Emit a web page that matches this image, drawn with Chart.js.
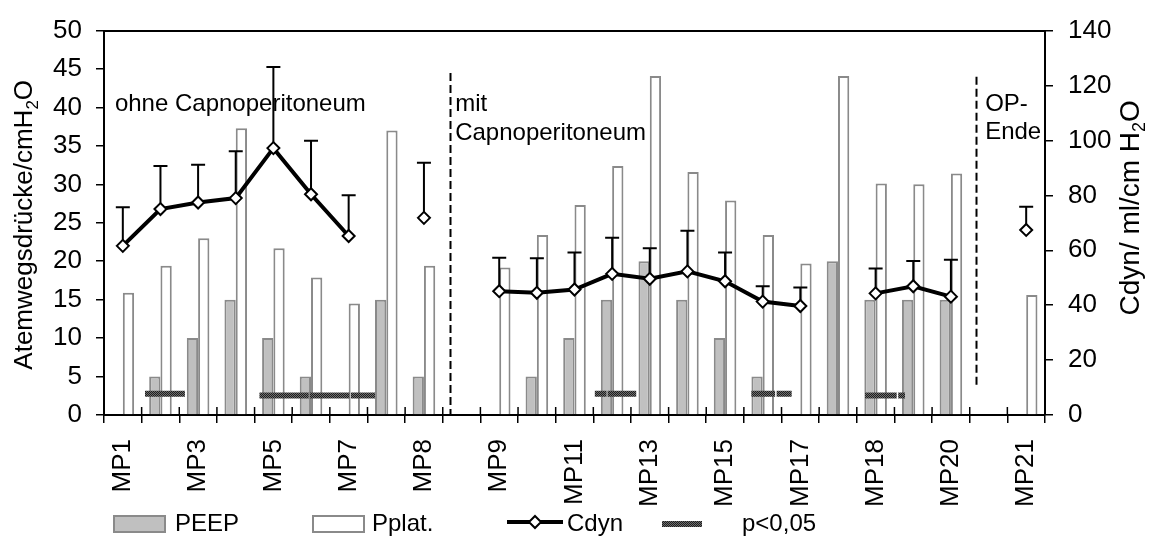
<!DOCTYPE html>
<html>
<head>
<meta charset="utf-8">
<script src="https://cdn.jsdelivr.net/npm/chart.js@4"></script>
<style>
  html, body { margin: 0; padding: 0; background: #fff; }
  #wrap { width: 1156px; height: 538px; position: relative; }
</style>
</head>
<body>
<div id="wrap"><canvas id="c"></canvas></div>
<script>
// Measurement points (empty strings mark spacer slots between phases)
const categories = ['MP1','MP2','MP3','MP4','MP5','MP6','MP7','','MP8','','MP9','MP10','MP11','MP12','MP13','MP14','MP15','MP16','MP17','','MP18','MP19','MP20','','MP21'];

// Airway pressures, cmH2O (left axis)
const peep  = [0, 5, 10, 15, 10, 5, 0, 15, 5, null, 0, 5, 10, 15, 20, 15, 10, 5, 0, 20, 15, 15, 15, null, 0];
const pplat = [15.9, 19.4, 23.0, 37.3, 21.7, 17.9, 14.5, 37.0, 19.4, null, 19.2, 23.4, 27.3, 32.4, 44.1, 31.6, 27.9, 23.4, 19.7, 44.1, 30.1, 30.0, 31.4, null, 15.6];

// Dynamic compliance, ml/cmH2O (right axis): mean and SD
const cdynMean = [61.6, 75.0, 77.4, 79.0, 97.2, 80.4, 65.2, null, 71.8, null, 45.1, 44.5, 45.7, 51.4, 49.6, 52.3, 48.7, 41.3, 39.7, null, 44.3, 46.9, 43.1, null, 67.4];
const cdynSD   = [14.1, 15.7, 13.7, 17.1, 29.5, 19.5, 14.8, null, 20.1, null, 12.2, 12.6, 13.5, 13.2, 11.1, 14.8, 10.5, 5.6, 6.7, null, 9.1, 9.2, 13.4, null, 8.4];

// Significance markers: start/end in slot units along the x axis, level on the left axis
const sigStart = [1.09, 4.13, 5.47, 6.56, 13.04, 13.38, 17.20, 17.87, 20.22, 21.10];
const sigEnd   = [2.15, 5.44, 6.52, 7.20, 13.35, 14.14, 17.83, 18.27, 21.06, 21.28];
const sigLevel = [2.75, 2.55, 2.55, 2.55, 2.75, 2.75, 2.75, 2.75, 2.55, 2.55];

// Phase dividers (slot units) and their vertical extent on the left axis
const dividerAt     = [9.19, 23.17];
const dividerTop    = [44.5, 44.0];
const dividerBottom = [0, 3.5];

// Phase captions: one line each, anchored in slot units / left-axis values
const noteText = ['ohne Capnoperitoneum', 'mit', 'Capnoperitoneum', 'OP-', 'Ende'];
const noteX    = [0.29, 9.33, 9.33, 23.41, 23.41];
const noteY    = [39.6, 39.6, 35.75, 39.6, 35.9];

// Axis ranges and titles (title = [before subscript, subscript, after])
const leftTicks  = {min: 0, max: 50, step: 5};
const rightTicks = {min: 0, max: 140, step: 20};
const leftTitle  = ['Atemwegsdrücke/cmH', '2', 'O'];
const rightTitle = ['Cdyn/ ml/cm H', '2', 'O'];

const FONT = "'Liberation Sans', Arial, sans-serif";

// Significance line points in the category scale's internal units
// (slot boundary k sits at category value k - 0.5); nulls break the line
const sigPoints = [];
sigStart.forEach((s, i) => {
  sigPoints.push({x: s - 0.5, y: sigLevel[i]});
  sigPoints.push({x: sigEnd[i] - 0.5, y: sigLevel[i]});
  sigPoints.push({x: (sigEnd[i] + (sigStart[i + 1] ?? sigEnd[i])) / 2 - 0.5, y: null});
});

// Dark checkered texture for the significance bars
function makeTexture() {
  const c = document.createElement('canvas');
  c.width = 2; c.height = 2;
  const g = c.getContext('2d');
  g.fillStyle = '#6e6e6e'; g.fillRect(0, 0, 2, 2);
  g.fillStyle = '#1e1e1e'; g.fillRect(0, 0, 1, 1); g.fillRect(1, 1, 1, 1);
  return g.createPattern(c, 'repeat');
}
const sigTexture = makeTexture();

// Rotated axis title with a subscript, reading bottom to top
function drawTitle(ctx, parts, baseX, centerY, size) {
  const big = size + 'px ' + FONT, small = Math.round(size * 0.65) + 'px ' + FONT;
  ctx.font = big;
  const w0 = ctx.measureText(parts[0]).width, w2 = ctx.measureText(parts[2]).width;
  ctx.font = small;
  const w1 = ctx.measureText(parts[1]).width;
  const total = w0 + w1 + w2;
  ctx.save();
  ctx.translate(baseX, centerY);
  ctx.rotate(-Math.PI / 2);
  ctx.fillStyle = '#000';
  ctx.textAlign = 'left';
  ctx.textBaseline = 'alphabetic';
  let x = -total / 2;
  ctx.font = big;  ctx.fillText(parts[0], x, 0); x += w0;
  ctx.font = small; ctx.fillText(parts[1], x, size * 0.22); x += w1;
  ctx.font = big;  ctx.fillText(parts[2], x, 0);
  ctx.restore();
}

const overlay = {
  id: 'overlay',
  beforeDatasetsDraw(chart) {
    const {ctx, scales: {xp, y}} = chart;
    ctx.save();
    ctx.strokeStyle = '#000';
    ctx.lineWidth = 2;
    ctx.setLineDash([8, 4]);
    dividerAt.forEach((d, i) => {
      const px = Math.round(xp.getPixelForValue(d)) + 0.5;
      ctx.beginPath();
      ctx.moveTo(px, y.getPixelForValue(dividerTop[i]));
      ctx.lineTo(px, y.getPixelForValue(dividerBottom[i]));
      ctx.stroke();
    });
    ctx.restore();
  },
  beforeDatasetDraw(chart, args) {
    if (chart.data.datasets[args.index].label !== 'Cdyn') return;
    const {ctx, scales: {x, y2}} = chart;
    ctx.save();
    ctx.strokeStyle = '#000';
    ctx.lineWidth = 2;
    cdynMean.forEach((m, i) => {
      if (m == null) return;
      const px = x.getPixelForValue(i);
      const y0 = y2.getPixelForValue(m);
      const y1 = y2.getPixelForValue(m + cdynSD[i]);
      ctx.beginPath();
      ctx.moveTo(px, y0); ctx.lineTo(px, y1);
      ctx.moveTo(px - 7, y1); ctx.lineTo(px + 7, y1);
      ctx.stroke();
    });
    ctx.restore();
  },
  afterDatasetsDraw(chart) {
    const {ctx, chartArea, scales: {xp, y}} = chart;
    ctx.save();
    // inner halves of the category tick marks
    ctx.strokeStyle = '#000';
    ctx.lineWidth = 1.5;
    for (let i = 0; i <= categories.length; i++) {
      const px = xp.getPixelForValue(i);
      ctx.beginPath();
      ctx.moveTo(px, chartArea.bottom - 8);
      ctx.lineTo(px, chartArea.bottom);
      ctx.stroke();
    }
    // phase captions
    ctx.fillStyle = '#000';
    ctx.font = '24px ' + FONT;
    ctx.textBaseline = 'alphabetic';
    ctx.textAlign = 'left';
    noteText.forEach((t, i) => {
      ctx.fillText(t, xp.getPixelForValue(noteX[i]), y.getPixelForValue(noteY[i]));
    });
    ctx.restore();
  },
  afterDraw(chart) {
    const {ctx, chartArea} = chart;
    const midY = (chartArea.top + chartArea.bottom) / 2;
    drawTitle(ctx, leftTitle, chartArea.left - 72, midY + 2, 26);
    drawTitle(ctx, rightTitle, chartArea.right + 94, midY - 15, 28);

    const ds = chart.data.datasets;
    const get = l => ds.find(d => d.label === l);
    const yMid = 524;
    ctx.save();
    ctx.font = '24px ' + FONT;
    ctx.fillStyle = '#000';
    ctx.textBaseline = 'middle';
    ctx.textAlign = 'left';
    // bar swatches
    [['PEEP', 113, 175], ['Pplat.', 312, 372]].forEach(([lab, bx, tx]) => {
      const d = get(lab);
      ctx.fillStyle = d.backgroundColor;
      ctx.fillRect(bx, 515, 53, 18);
      ctx.strokeStyle = d.borderColor;
      ctx.lineWidth = 2;
      ctx.strokeRect(bx + 1, 516, 51, 16);
      ctx.fillStyle = '#000';
      ctx.fillText(lab, tx, yMid);
    });
    // compliance line sample
    const c = get('Cdyn');
    ctx.strokeStyle = c.borderColor;
    ctx.lineWidth = c.borderWidth;
    ctx.beginPath(); ctx.moveTo(507, 522); ctx.lineTo(563, 522); ctx.stroke();
    ctx.fillStyle = '#fff';
    ctx.lineWidth = 2;
    ctx.beginPath();
    ctx.moveTo(535, 516); ctx.lineTo(541, 522); ctx.lineTo(535, 528); ctx.lineTo(529, 522); ctx.closePath();
    ctx.fill(); ctx.stroke();
    ctx.fillStyle = '#000';
    ctx.fillText('Cdyn', 567, yMid);
    // significance sample
    const p = get('p<0,05');
    ctx.strokeStyle = p.borderColor;
    ctx.lineWidth = p.borderWidth;
    ctx.lineCap = 'butt';
    ctx.beginPath(); ctx.moveTo(662, 524); ctx.lineTo(702, 524); ctx.stroke();
    ctx.fillStyle = '#000';
    ctx.fillText('p<0,05', 742, yMid);
    ctx.restore();
  }
};

new Chart(document.getElementById('c'), {
  type: 'bar',
  data: {
    labels: categories,
    datasets: [
      {
        type: 'line', label: 'Cdyn', data: cdynMean,
        xAxisID: 'x', yAxisID: 'y2', order: 0,
        borderColor: '#000', borderWidth: 4, spanGaps: false,
        pointStyle: 'rectRot', pointRadius: 6, pointBorderWidth: 2,
        pointBackgroundColor: '#fff', pointBorderColor: '#000'
      },
      {
        type: 'line', label: 'p<0,05', data: sigPoints, parsing: false,
        xAxisID: 'x', yAxisID: 'y', order: 1,
        borderColor: sigTexture, borderWidth: 6, borderCapStyle: 'butt',
        pointRadius: 0, spanGaps: false
      },
      {
        type: 'bar', label: 'PEEP', data: peep,
        xAxisID: 'x', yAxisID: 'y', order: 2,
        backgroundColor: '#c0c0c0', borderColor: '#8a8a8a', borderWidth: 2,
        categoryPercentage: 0.6, barPercentage: 1.0
      },
      {
        type: 'bar', label: 'Pplat.', data: pplat,
        xAxisID: 'x', yAxisID: 'y', order: 2,
        backgroundColor: '#ffffff', borderColor: '#8a8a8a', borderWidth: 2,
        categoryPercentage: 0.6, barPercentage: 1.0
      }
    ]
  },
  options: {
    responsive: true,
    maintainAspectRatio: false,
    animation: false,
    layout: {padding: 0},
    plugins: {legend: {display: false}, tooltip: {enabled: false}},
    scales: {
      x: {
        type: 'category', position: 'bottom', offset: true,
        grid: {display: true, drawOnChartArea: false, offset: true, tickLength: 8, color: '#000', lineWidth: 1.5},
        border: {display: true, color: '#000', width: 2},
        ticks: {
          autoSkip: false, maxRotation: 90, minRotation: 90, padding: 16,
          color: '#000', font: {family: FONT, size: 26},
          callback: (v, i) => (i % 2 === 0 ? categories[i] : '')
        },
        afterFit: s => { s.height = 123; }
      },
      // slot-unit scale along the top edge: frame line and overlay anchoring
      xp: {
        type: 'linear', position: 'top', min: 0, max: categories.length, offset: false,
        grid: {display: false, offset: false},
        border: {display: true, color: '#000', width: 2},
        ticks: {display: false},
        afterFit: s => { s.height = 25; }
      },
      y: {
        position: 'left', min: leftTicks.min, max: leftTicks.max,
        grid: {drawOnChartArea: false, tickLength: 8, color: '#000', lineWidth: 1.5},
        border: {display: true, color: '#000', width: 2},
        ticks: {stepSize: leftTicks.step, padding: 14, color: '#000', font: {family: FONT, size: 26}},
        afterFit: s => { s.width = 104; }
      },
      y2: {
        position: 'right', min: rightTicks.min, max: rightTicks.max,
        grid: {drawOnChartArea: false, tickLength: 8, color: '#000', lineWidth: 1.5},
        border: {display: true, color: '#000', width: 2},
        ticks: {stepSize: rightTicks.step, padding: 15, color: '#000', font: {family: FONT, size: 26}},
        afterFit: s => { s.width = 111; }
      }
    }
  },
  plugins: [overlay]
});
</script>
</body>
</html>
